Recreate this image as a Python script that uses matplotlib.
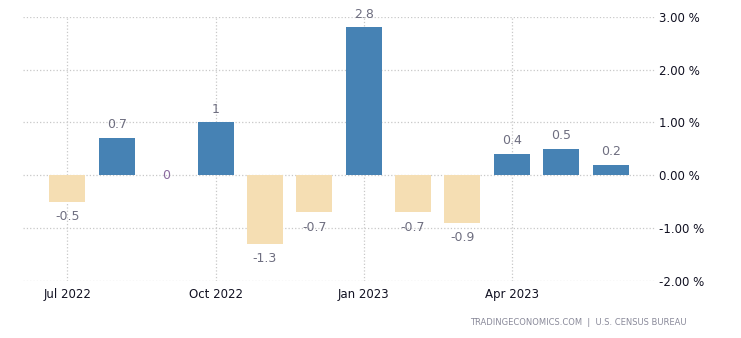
import numpy as np
import matplotlib
matplotlib.use('Agg')
from matplotlib import pyplot as plt

months = ['Jul 2022', 'Aug 2022', 'Sep 2022', 'Oct 2022', 'Nov 2022', 'Dec 2022',
          'Jan 2023', 'Feb 2023', 'Mar 2023', 'Apr 2023', 'May 2023', 'Jun 2023']
values = [-0.5, 0.7, 0, 1, -1.3, -0.7, 2.8, -0.7, -0.9, 0.4, 0.5, 0.2]
tick_months = ['Jul 2022', 'Oct 2022', 'Jan 2023', 'Apr 2023']
y_ticks = [-2, -1, 0, 1, 2, 3]

plt.rcParams['font.family'] = ['DejaVu Sans']

fig = plt.figure(figsize=(7.41, 3.38), dpi=100)
ax = fig.add_axes([0.031, 0.169, 0.853, 0.781])

x = np.arange(len(values))
colors = ['#4682b4' if v > 0 else '#f5deb3' for v in values]
ax.bar(x, values, width=0.73, color=colors, zorder=2)

for xi, v in zip(x, values):
    if v > 0:
        off, va, col = 5, 'bottom', '#6e6e80'
    elif v < 0:
        off, va, col = -6, 'top', '#6e6e80'
    else:
        off, va, col = 0, 'center', '#8a6a9e'
    lbl = '%g' % v
    ax.annotate(lbl, (xi, v), xytext=(0, off), textcoords='offset points',
                ha='center', va=va, fontsize=9, color=col)

ax.set_xlim(-0.9, len(values) - 0.1)
ax.set_ylim(-2, 3)
ax.set_xticks([months.index(m) for m in tick_months])
ax.set_xticklabels(tick_months)
ax.set_yticks(y_ticks)
ax.set_yticklabels(['%.2f %%' % t for t in y_ticks])
ax.yaxis.tick_right()
ax.tick_params(axis='both', length=0, labelsize=8.5, colors='#111122')
ax.tick_params(axis='y', pad=3)
ax.tick_params(axis='x', pad=5)
for s in ax.spines.values():
    s.set_visible(False)
ax.grid(True, linestyle=':', color='#c8c8c8', linewidth=0.9, zorder=0)
ax.set_axisbelow(True)

fig.text(0.926, 0.045, 'TRADINGECONOMICS.COM  |  U.S. CENSUS BUREAU', ha='right', va='center',
         fontsize=6, color='#8a8a9a')

plt.savefig('out.png', dpi=100)
plt.close()
